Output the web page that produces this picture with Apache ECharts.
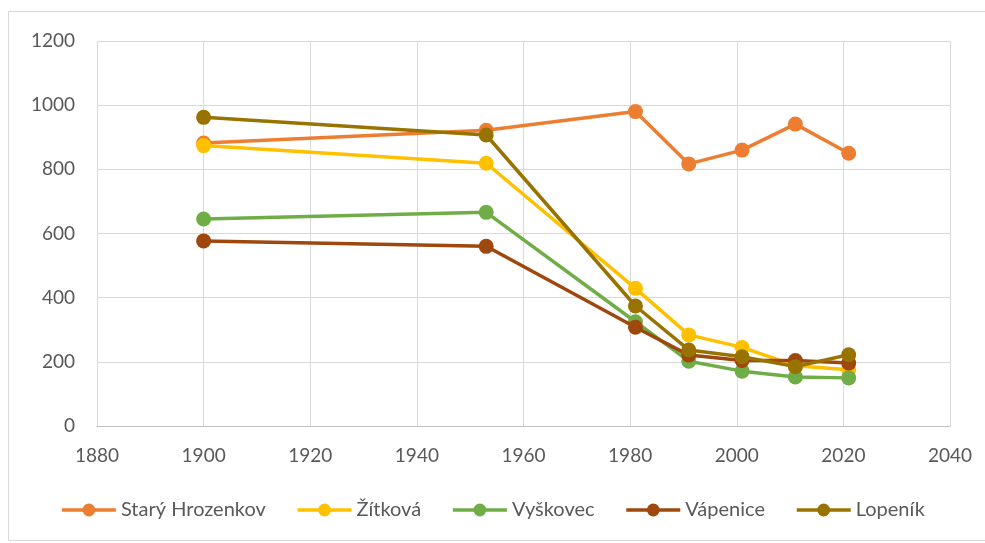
<!DOCTYPE html>
<html><head><meta charset="utf-8">
<script src="https://cdn.jsdelivr.net/npm/echarts@6/dist/echarts.min.js"></script>
<style>html,body{margin:0;padding:0;background:#fff}#c{width:985px;height:543px}</style>
</head><body><div id="c"></div>
<script>
const years = [1900, 1953, 1981, 1991, 2001, 2011, 2021];
const seriesNames = ['Starý Hrozenkov', 'Žítková', 'Vyškovec', 'Vápenice', 'Lopeník'];
const staryHrozenkov = [882, 922, 980, 817, 860, 941, 850];
const zitkova = [874, 819, 429, 284, 245, 188, 175];
const vyskovec = [645, 666, 325, 202, 171, 153, 150];
const vapenice = [577, 560, 308, 221, 204, 204, 196];
const lopenik = [962, 907, 374, 237, 216, 185, 222];
const colors = ['#ED7D31', '#FFC000', '#70AD47', '#9E480E', '#997300'];
const allValues = [staryHrozenkov, zitkova, vyskovec, vapenice, lopenik];
const xTicks = {min: 1880, max: 2040, interval: 20};
const yTicks = {min: 0, max: 1200, interval: 200};

const chart = echarts.init(document.getElementById('c'), null, {renderer: 'canvas'});
const font = 'Lato, "Open Sans", sans-serif';
chart.setOption({
  animation: false,
  color: colors,
  textStyle: {fontFamily: font},
  graphic: [{type: 'rect', shape: {x: 8.5, y: 11.5, width: 1000, height: 529}, style: {fill: 'none', stroke: '#d9d9d9', lineWidth: 1}, silent: true}],
  grid: {left: 97, right: 35, top: 41, bottom: 117, containLabel: false},
  legend: {
    bottom: 18, left: 'center', itemWidth: 54, itemHeight: 16, itemGap: 30,
    lineStyle: {width: 3.5},
    textStyle: {fontSize: 20, color: '#595959', fontFamily: font},
    data: seriesNames
  },
  xAxis: {
    type: 'value', min: xTicks.min, max: xTicks.max, interval: xTicks.interval,
    axisLine: {show: true, lineStyle: {color: '#bfbfbf', width: 1}},
    axisTick: {show: false},
    splitLine: {show: true, lineStyle: {color: '#d9d9d9', width: 1}},
    axisLabel: {fontSize: 19, color: '#595959', margin: 20, fontFamily: font, formatter: v => String(v)}
  },
  yAxis: {
    type: 'value', min: yTicks.min, max: yTicks.max, interval: yTicks.interval,
    axisLine: {show: false}, axisTick: {show: false},
    splitLine: {show: true, lineStyle: {color: '#d9d9d9', width: 1}},
    axisLabel: {fontSize: 19, color: '#595959', margin: 22, fontFamily: font, formatter: v => String(v)}
  },
  series: seriesNames.map((n, i) => ({
    name: n, type: 'line',
    data: years.map((y, j) => [y, allValues[i][j]]),
    symbol: 'circle', symbolSize: 15,
    lineStyle: {width: 3.5, color: colors[i]},
    itemStyle: {color: colors[i]},
    z: 2 + i
  }))
});
</script></body></html>
